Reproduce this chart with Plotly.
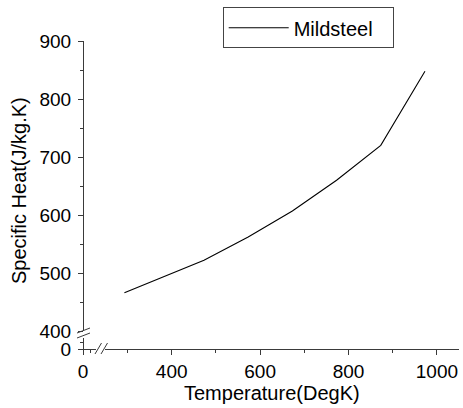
import plotly.graph_objects as go

temperature = [293, 473, 573, 673, 773, 873, 973]
specific_heat = [466, 522, 562, 607, 660, 720, 848]
series_name = "Mildsteel"
x_ticks = [400, 600, 800, 1000]
y_ticks = [400, 500, 600, 700, 800, 900]

W, H = 463, 408
L, R, T, B = 83, 4, 41, 59
PW, PH = W - L - R, H - T - B

def px(x):
    return (x - L) / PW

def py(y):
    return (H - B - y) / PH

FONT = "Liberation Sans, Arial, sans-serif"
AX = "#3a3a3a"

fig = go.Figure()
fig.add_trace(go.Scatter(x=temperature, y=specific_heat, mode="lines", name=series_name,
                         line=dict(color="black", width=1.1), xaxis="x", yaxis="y"))
# empty trace so the broken-off lower axis segments are drawn
fig.add_trace(go.Scatter(x=[None], y=[None], mode="lines", showlegend=False,
                         hoverinfo="skip", xaxis="x2", yaxis="y2"))

common = dict(showline=True, linecolor=AX, linewidth=1, ticks="outside", ticklen=5,
              tickcolor=AX, tickwidth=1, showgrid=False, zeroline=False,
              tickfont=dict(family=FONT, size=19, color="black"), fixedrange=True)

fig.update_layout(
    width=W, height=H,
    margin=dict(l=L, r=R, t=T, b=B),
    plot_bgcolor="white", paper_bgcolor="white",
    showlegend=True,
    legend=dict(x=px(222.7), y=py(7.3), xanchor="left", yanchor="top",
                bordercolor="#444", borderwidth=1, bgcolor="white",
                font=dict(family=FONT, size=20, color="black"),
                orientation="h", entrywidth=94, itemwidth=60),
    xaxis=dict(domain=[px(105.4), 1], range=[250, 1050], anchor="free", position=0,
               tickvals=x_ticks, minor=dict(tickvals=[300, 500, 700, 900], ticklen=3,
                                            ticks="outside", tickcolor=AX),
               **common),
    yaxis=dict(domain=[py(331), 1], range=[400, 900], anchor="free", position=0,
               tickvals=y_ticks,
               minor=dict(tickvals=[450, 550, 650, 750, 850], ticklen=3,
                          ticks="outside", tickcolor=AX),
               ticklabelstandoff=3,
               **common),
    xaxis2=dict(domain=[0, px(96)], range=[0, 13], anchor="free", position=0,
                tickvals=[0], minor=dict(tickvals=[7.5], ticklen=3, ticks="outside", tickcolor=AX),
                **common),
    yaxis2=dict(domain=[0, py(338)], range=[0, 11], anchor="free", position=0,
                tickvals=[0], minor=dict(tickvals=[7], ticklen=3, ticks="outside", tickcolor=AX),
                ticklabelstandoff=3,
                **common),
)

fig.add_annotation(text="Temperature(DegK)", xref="paper", yref="paper",
                   x=px(272), y=py(393), showarrow=False,
                   font=dict(family=FONT, size=20, color="black"),
                   xanchor="center", yanchor="middle")
fig.add_annotation(text="Specific Heat(J/kg.K)", xref="paper", yref="paper",
                   x=px(19), y=py(191), textangle=-90, showarrow=False,
                   font=dict(family=FONT, size=20, color="black"),
                   xanchor="center", yanchor="middle")

def seg(x0, y0, x1, y1):
    fig.add_shape(type="line", xref="paper", yref="paper",
                  x0=px(x0), y0=py(y0), x1=px(x1), y1=py(y1),
                  line=dict(color=AX, width=1))

seg(77, 333, 90, 328)
seg(77, 338, 90, 333)
seg(95, 354, 101.5, 343)
seg(101, 354, 107.5, 343)

fig.write_html("out.html")
